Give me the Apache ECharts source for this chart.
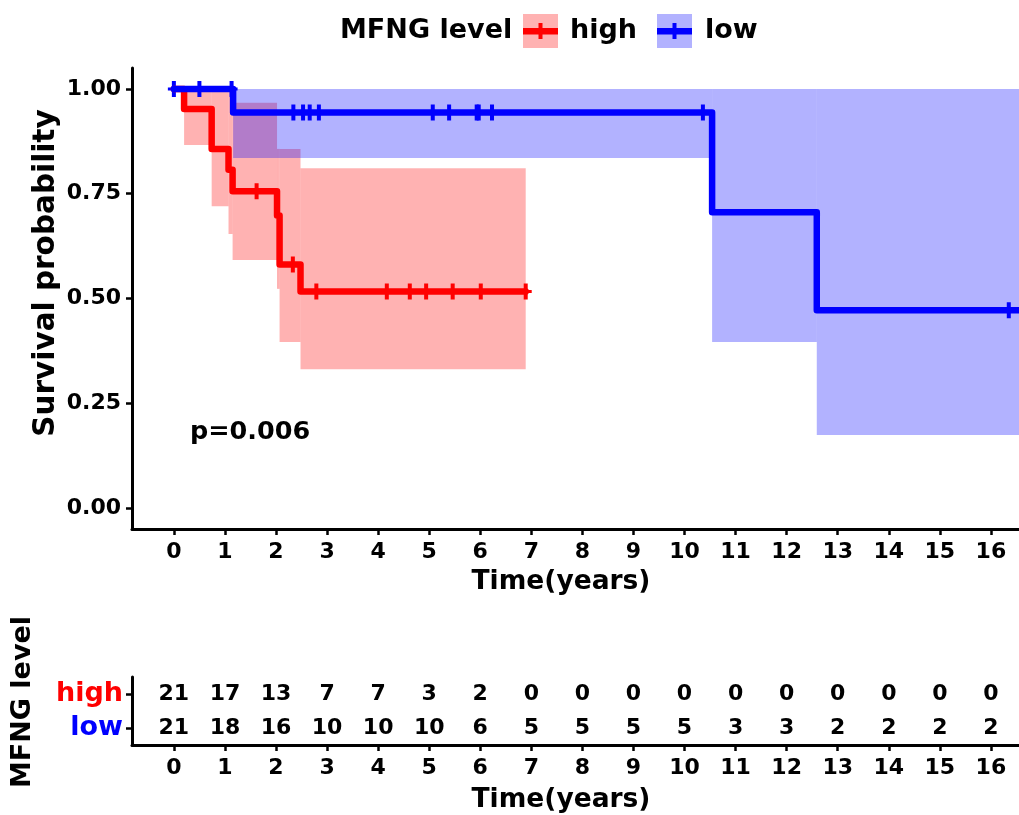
<!DOCTYPE html>
<html>
<head>
<meta charset="utf-8">
<title>MFNG level survival</title>
<script src="https://cdn.jsdelivr.net/npm/echarts@6/dist/echarts.min.js"></script>
<style>
html,body{margin:0;padding:0;background:#fff;}
#main{width:1019px;height:815px;}
</style>
</head>
<body>
<div id="main"></div>
<script>
var FONT = 'DejaVu Sans';

// axes
var timeTicks = [0,1,2,3,4,5,6,7,8,9,10,11,12,13,14,15,16];
var survTicks = [0,0.25,0.5,0.75,1];
var groups = ['low','high'];

// KM curves [time, survival]
var highCurve = [[0,1],[0.2,0.952],[0.74,0.857],[1.07,0.807],[1.15,0.756],[2.02,0.698],[2.07,0.581],[2.48,0.517],[6.89,0.517]];
var lowCurve = [[0,1],[1.16,0.944],[10.54,0.706],[12.59,0.472],[16.55,0.472]];

// censor marks [time, survival]
var highCensor = [[1.62,0.756],[2.33,0.581],[2.79,0.517],[4.17,0.517],[4.62,0.517],[4.94,0.517],[5.46,0.517],[6.01,0.517],[6.89,0.517]];
var lowCensor = [[0,1],[0.5,1],[1.13,1],[2.34,0.944],[2.53,0.944],[2.66,0.944],[2.84,0.944],[5.07,0.944],[5.39,0.944],[5.93,0.944],[5.97,0.944],[6.23,0.944],[10.36,0.944],[16.35,0.472]];

// confidence bands [t0, t1, lower, upper]
var highCI = [[0.2,0.74,0.866,1],[0.74,1.07,0.72,1],[1.07,1.15,0.654,1],[1.15,2.02,0.592,0.967],[2.02,2.07,0.523,0.857],[2.07,2.48,0.396,0.857],[2.48,6.89,0.331,0.811]];
var lowCI = [[1.16,10.54,0.835,1],[10.54,12.59,0.396,1],[12.59,16.55,0.174,1]];

// number at risk
var highRisk = [21,17,13,7,7,3,2,0,0,0,0,0,0,0,0,0,0];
var lowRisk = [21,18,16,10,10,10,6,5,5,5,5,3,3,2,2,2,2];

var RED = '#ff0000', BLUE = '#0000ff';
var censorPath = 'path://M4,0 H8 V16 H4 Z M0,6.5 H12 V9.5 H0 Z';

function bandItem(color){
    return function(params, api){
        var p0 = api.coord([api.value(0), api.value(3)]);
        var p1 = api.coord([api.value(1), api.value(2)]);
        return {
            type: 'rect',
            shape: {x: p0[0], y: p0[1], width: p1[0]-p0[0], height: p1[1]-p0[1]},
            style: {fill: color}
        };
    };
}

function axisLine(){ return {show: true, onZero: false, lineStyle: {color: '#000', width: 3}}; }
function axisTick(vals){
    var t = {show: true, length: 6, lineStyle: {color: '#000', width: 2.5}};
    if (vals) t.customValues = vals; else t.alignWithLabel = true;
    return t;
}
function labelFont(extra){
    var o = {show: true, color: '#000', fontFamily: FONT, fontWeight: 'bold', fontSize: 22};
    for (var k in extra) o[k] = extra[k];
    return o;
}
function title(text, x, y, size, rot){
    return {type: 'text', x: x, y: y, rotation: rot || 0,
        style: {text: text, fill: '#000', font: 'bold ' + size + 'px "DejaVu Sans"', align: 'center', verticalAlign: 'middle'}};
}

var highRiskData = timeTicks.map(function(t, i){ return [t, 'high', highRisk[i]]; });
var lowRiskData = timeTicks.map(function(t, i){ return [t, 'low', lowRisk[i]]; });

var riskLabel = {show: true, position: 'inside', formatter: function(p){ return p.value[2]; },
    color: '#000', fontFamily: FONT, fontWeight: 'bold', fontSize: 22};

var myChart = echarts.init(document.getElementById('main'));
myChart.setOption({
    backgroundColor: '#fff',
    animation: false,
    grid: [
        {left: 132, right: 0, top: 68, height: 461},
        {left: 132, right: 0, top: 677, height: 68}
    ],
    xAxis: [{
        type: 'value', gridIndex: 0, min: -0.82, max: 16.55,
        axisLine: axisLine(), axisTick: axisTick(timeTicks), splitLine: {show: false},
        axisLabel: labelFont({margin: 12, customValues: timeTicks})
    }, {
        type: 'value', gridIndex: 1, min: -0.82, max: 16.55,
        axisLine: axisLine(), axisTick: axisTick(timeTicks), splitLine: {show: false},
        axisLabel: labelFont({margin: 12, customValues: timeTicks})
    }],
    yAxis: [{
        type: 'value', gridIndex: 0, min: -0.05, max: 1.05,
        axisLine: axisLine(), axisTick: axisTick(survTicks), splitLine: {show: false},
        axisLabel: labelFont({margin: 11, customValues: survTicks, formatter: function(v){ return v.toFixed(2); }})
    }, {
        type: 'category', gridIndex: 1, data: groups,
        axisLine: axisLine(), axisTick: axisTick(), splitLine: {show: false},
        axisLabel: {show: true, interval: 0, hideOverlap: false, margin: 9, fontFamily: FONT, fontWeight: 'bold', fontSize: 27,
            color: function(v){ return v === 'high' ? RED : BLUE; }}
    }],
    series: [{
        type: 'custom', name: 'high CI', xAxisIndex: 0, yAxisIndex: 0,
        renderItem: bandItem('rgba(255,0,0,0.3)'), encode: {x: [0,1], y: [2,3]},
        data: highCI, silent: true
    }, {
        type: 'custom', name: 'low CI', xAxisIndex: 0, yAxisIndex: 0,
        renderItem: bandItem('rgba(0,0,255,0.3)'), encode: {x: [0,1], y: [2,3]},
        data: lowCI, silent: true
    }, {
        type: 'line', name: 'high', xAxisIndex: 0, yAxisIndex: 0, step: 'end',
        showSymbol: false, symbol: 'none', data: highCurve,
        lineStyle: {color: RED, width: 6.5, join: 'round', cap: 'round'}
    }, {
        type: 'line', name: 'low', xAxisIndex: 0, yAxisIndex: 0, step: 'end',
        showSymbol: false, symbol: 'none', data: lowCurve,
        lineStyle: {color: BLUE, width: 6.5, join: 'round', cap: 'round'}
    }, {
        type: 'scatter', xAxisIndex: 0, yAxisIndex: 0, data: highCensor,
        symbol: censorPath, symbolSize: [12, 16], itemStyle: {color: RED, opacity: 1}
    }, {
        type: 'scatter', xAxisIndex: 0, yAxisIndex: 0, data: lowCensor,
        symbol: censorPath, symbolSize: [12, 16], itemStyle: {color: BLUE, opacity: 1}
    }, {
        type: 'scatter', xAxisIndex: 1, yAxisIndex: 1, data: highRiskData,
        symbolSize: 2, itemStyle: {color: 'rgba(0,0,0,0)', opacity: 1}, label: riskLabel
    }, {
        type: 'scatter', xAxisIndex: 1, yAxisIndex: 1, data: lowRiskData,
        symbolSize: 2, itemStyle: {color: 'rgba(0,0,0,0)', opacity: 1}, label: riskLabel
    }],
    graphic: [
        title('Survival probability', 46, 273, 29.5, Math.PI / 2),
        title('Time(years)', 561, 582, 26.5),
        title('MFNG level', 23, 702, 27, Math.PI / 2),
        title('Time(years)', 561, 800, 26.5),
        {type: 'text', x: 340, y: 31, style: {text: 'MFNG level', fill: '#000', font: 'bold 27px "DejaVu Sans"', verticalAlign: 'middle'}},
        {type: 'rect', x: 523, y: 14, shape: {width: 35, height: 34}, style: {fill: 'rgba(255,0,0,0.3)'}},
        {type: 'rect', x: 523, y: 28, shape: {width: 35, height: 6.5}, style: {fill: RED}},
        {type: 'rect', x: 538.5, y: 23, shape: {width: 4, height: 16}, style: {fill: RED}},
        {type: 'text', x: 570, y: 31, style: {text: 'high', fill: '#000', font: 'bold 27px "DejaVu Sans"', verticalAlign: 'middle'}},
        {type: 'rect', x: 657, y: 14, shape: {width: 35, height: 34}, style: {fill: 'rgba(0,0,255,0.3)'}},
        {type: 'rect', x: 657, y: 28, shape: {width: 35, height: 6.5}, style: {fill: BLUE}},
        {type: 'rect', x: 672.5, y: 23, shape: {width: 4, height: 16}, style: {fill: BLUE}},
        {type: 'text', x: 705, y: 31, style: {text: 'low', fill: '#000', font: 'bold 27px "DejaVu Sans"', verticalAlign: 'middle'}},
        {type: 'text', x: 190, y: 432, style: {text: 'p=0.006', fill: '#000', font: 'bold 25.5px "DejaVu Sans"', verticalAlign: 'middle'}}
    ]
});
</script>
</body>
</html>
